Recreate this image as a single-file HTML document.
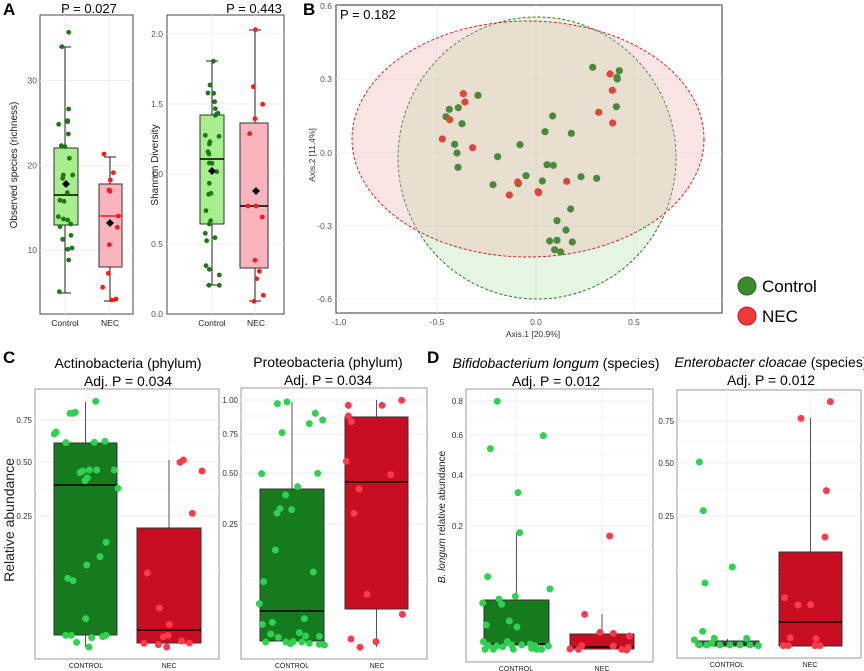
<!DOCTYPE html>
<html><head><meta charset="utf-8">
<style>
html,body{margin:0;padding:0;background:#fff}
svg{display:block;font-family:"Liberation Sans",sans-serif}
</style></head><body>
<svg id="s" width="864" height="671" viewBox="0 0 864 671" xmlns="http://www.w3.org/2000/svg">
<!-- Panel A -->
<g id="A">
<rect x="40" y="15" width="93" height="299" fill="#fff" stroke="#444" stroke-width="1"/>
<g stroke="#ececec" stroke-width="0.8">
<line x1="40" x2="133" y1="80.7" y2="80.7"/><line x1="40" x2="133" y1="165.7" y2="165.7"/><line x1="40" x2="133" y1="250.3" y2="250.3"/>
<line x1="65" x2="65" y1="15" y2="314"/><line x1="109" x2="109" y1="15" y2="314"/>
</g>
<line x1="65" x2="65" y1="47" y2="293" stroke="#222"/>
<line x1="59" x2="71" y1="47" y2="47" stroke="#222"/><line x1="59" x2="71" y1="293" y2="293" stroke="#222"/>
<rect x="54" y="148" width="24" height="77" fill="#a6ee8e" stroke="#333"/>
<line x1="54" x2="78" y1="195" y2="195" stroke="#000" stroke-width="1.6"/>
<line x1="110" x2="110" y1="157" y2="301" stroke="#222"/>
<line x1="104" x2="116" y1="157" y2="157" stroke="#222"/><line x1="104" x2="116" y1="301" y2="301" stroke="#222"/>
<rect x="99" y="184" width="23" height="83" fill="#f9b4be" stroke="#333"/>
<line x1="99" x2="122" y1="216" y2="216" stroke="#ff2020" stroke-width="1.6"/>
<g font-size="8.5" fill="#555" text-anchor="end"><text x="37" y="83.5">30</text><text x="37" y="168.5">20</text><text x="37" y="253">10</text></g>
<g font-size="8.5" fill="#222" text-anchor="middle"><text x="65" y="326">Control</text><text x="110" y="326">NEC</text></g>
<text transform="translate(17,165) rotate(-90)" font-size="10" text-anchor="middle" fill="#222">Observed species (richness)</text>
<text x="89" y="13" font-size="13" text-anchor="middle">P = 0.027</text>

<rect x="167" y="15" width="117" height="299" fill="#fff" stroke="#444"/>
<g stroke="#ececec" stroke-width="0.8">
<line x1="167" x2="284" y1="34" y2="34"/><line x1="167" x2="284" y1="104" y2="104"/><line x1="167" x2="284" y1="174" y2="174"/><line x1="167" x2="284" y1="244" y2="244"/>
<line x1="212" x2="212" y1="15" y2="314"/><line x1="255" x2="255" y1="15" y2="314"/>
</g>
<line x1="212" x2="212" y1="61" y2="285" stroke="#222"/>
<line x1="206" x2="218" y1="61" y2="61" stroke="#222"/><line x1="206" x2="218" y1="285" y2="285" stroke="#222"/>
<rect x="200" y="115" width="24" height="109" fill="#a6ee8e" stroke="#333"/>
<line x1="200" x2="224" y1="159" y2="159" stroke="#000" stroke-width="1.6"/>
<line x1="255" x2="255" y1="30" y2="301" stroke="#222"/>
<line x1="249" x2="261" y1="30" y2="30" stroke="#222"/><line x1="249" x2="261" y1="301" y2="301" stroke="#222"/>
<rect x="240" y="123" width="28" height="145" fill="#f9b4be" stroke="#333"/>
<line x1="240" x2="268" y1="206" y2="206" stroke="#000" stroke-width="1.6"/>
<g font-size="8.5" fill="#555" text-anchor="end"><text x="163" y="37">2.0</text><text x="163" y="107">1.5</text><text x="163" y="177">1.0</text><text x="163" y="247">0.5</text><text x="163" y="317">0.0</text></g>
<g font-size="8.5" fill="#222" text-anchor="middle"><text x="212" y="326">Control</text><text x="256" y="326">NEC</text></g>
<text transform="translate(158,165) rotate(-90)" font-size="10" text-anchor="middle" fill="#222">Shannon Diversity</text>
<text x="254" y="13" font-size="13" text-anchor="middle">P = 0.443</text>
<text x="3" y="15" font-size="17" font-weight="bold">A</text>
</g>

<!-- Panel B -->
<g id="B">
<rect x="336" y="5" width="386" height="308" fill="#fff" stroke="#333"/>
<g stroke="#ececec" stroke-width="0.8">
<line x1="336" x2="722" y1="6" y2="6"/><line x1="336" x2="722" y1="79" y2="79"/><line x1="336" x2="722" y1="153" y2="153"/><line x1="336" x2="722" y1="226" y2="226"/><line x1="336" x2="722" y1="299" y2="299"/>
<line x1="339" x2="339" y1="5" y2="313"/><line x1="437" x2="437" y1="5" y2="313"/><line x1="536" x2="536" y1="5" y2="313"/><line x1="634" x2="634" y1="5" y2="313"/>
</g>
<ellipse cx="537" cy="158" rx="139" ry="141" fill="#a8e0a0" fill-opacity="0.3" stroke="#2e7d2e" stroke-dasharray="3,2"/>
<ellipse cx="528" cy="139" rx="176" ry="118" fill="#f0a8a8" fill-opacity="0.3" stroke="#e02020" stroke-dasharray="3,2"/>
<g id="bpts"></g>
<g font-size="8.5" fill="#555" text-anchor="end"><text x="332" y="9">0.6</text><text x="332" y="82">0.3</text><text x="332" y="156">0.0</text><text x="332" y="229">-0.3</text><text x="332" y="302">-0.6</text></g>
<g font-size="8.5" fill="#555" text-anchor="middle"><text x="339" y="325">-1.0</text><text x="437" y="325">-0.5</text><text x="536" y="325">0.0</text><text x="634" y="325">0.5</text></g>
<text x="533" y="337" font-size="8.5" text-anchor="middle" fill="#333">Axis.1  [20.9%]</text>
<text transform="translate(315,155) rotate(-90)" font-size="8.5" text-anchor="middle" fill="#333">Axis.2  [11.4%]</text>
<text x="340" y="19" font-size="13">P = 0.182</text>
<text x="303" y="15" font-size="17" font-weight="bold">B</text>
<circle cx="747" cy="286" r="9" fill="#3a8a2e" stroke="#2a6a22"/>
<circle cx="747" cy="316" r="9" fill="#ee3a3a" stroke="#c02020"/>
<text x="762" y="292" font-size="17">Control</text>
<text x="762" y="322" font-size="17">NEC</text>
</g>

<!-- Panel C/D frames -->
<g id="CD"></g>
<g font-size="14" text-anchor="middle">
<text x="128" y="368">Actinobacteria (phylum)</text><text x="128" y="386">Adj. P = 0.034</text>
<text x="328" y="367">Proteobacteria (phylum)</text><text x="328" y="385">Adj. P = 0.034</text>
<text x="556" y="368"><tspan font-style="italic">Bifidobacterium longum</tspan> (species)</text><text x="556" y="386">Adj. P = 0.012</text>
<text x="771" y="367"><tspan font-style="italic">Enterobacter cloacae</tspan> (species)</text><text x="771" y="385">Adj. P = 0.012</text>
</g>
<text transform="translate(14,520) rotate(-90)" font-size="14" text-anchor="middle" fill="#222">Relative abundance</text>
<text transform="translate(445,517) rotate(-90)" font-size="10" text-anchor="middle" fill="#222"><tspan font-style="italic">B. longum</tspan> relative abundance</text>
<text x="3" y="363" font-size="17" font-weight="bold">C</text>
<text x="427" y="363" font-size="17" font-weight="bold">D</text>
</svg>
<script>
var NS="http://www.w3.org/2000/svg",s=document.getElementById("s");
function el(t,a,p){var e=document.createElementNS(NS,t);for(var k in a)e.setAttribute(k,a[k]);(p||s).appendChild(e);return e;}
// A points
var Ag=[[186,140],[206,97],[176,373],[203,362],[206,327],[203,365],[205,402],[184,437],[195,440],[208,475],[190,525],[218,525],[188,535],[202,578],[180,601],[192,604],[175,650],[190,657],[203,660],[180,680],[212,672],[188,718],[213,706],[203,748],[216,744],[206,780],[178,875]];
var Ar=[[312,462],[340,518],[331,540],[327,570],[330,574],[355,648],[352,682],[328,734],[325,820],[308,862],[335,900],[348,897]];
var As=[[640,184],[630,255],[624,279],[641,280],[644,305],[646,326],[646,346],[651,342],[654,340],[616,406],[657,409],[630,425],[628,432],[624,455],[627,462],[628,489],[636,490],[650,515],[628,550],[633,580],[626,583],[618,632],[632,662],[628,672],[616,700],[620,722],[645,713],[618,797],[628,808],[658,825],[627,856],[658,856]];
var Asr=[[766,89],[760,260],[788,313],[765,356],[749,401],[768,618],[744,618],[787,651],[765,781],[770,836],[778,814],[790,886],[762,904]];
Ag.forEach(function(p){el("circle",{cx:p[0]/3,cy:p[1]/3,r:2.4,fill:"#1c7a16"});});
Ar.forEach(function(p){el("circle",{cx:p[0]/3,cy:p[1]/3,r:2.4,fill:"#ff1818"});});
As.forEach(function(p){el("circle",{cx:p[0]/3,cy:p[1]/3,r:2.4,fill:"#1c7a16"});});
Asr.forEach(function(p){el("circle",{cx:p[0]/3,cy:p[1]/3,r:2.4,fill:"#ff1818"});});
function dia(x,y){el("path",{d:"M"+x+" "+(y-4)+"L"+(x+4)+" "+y+"L"+x+" "+(y+4)+"L"+(x-4)+" "+y+"Z",fill:"#000"});}
dia(66,184);dia(110,223);dia(212,171);dia(256,191);
// B points
var bp=document.getElementById("bpts");
var Bg=[[878,202],[958,212],[951,232],[952,237],[949,320],[534,286],[448,328],[438,350],[475,323],[486,371],[758,348],[735,395],[814,400],[660,434],[464,433],[471,459],[474,502],[593,470],[741,494],[760,496],[678,527],[727,543],[655,551],[579,554],[843,530],[890,535],[812,627],[771,662],[798,690],[749,723],[771,721],[817,726],[764,749],[782,756]];
var Br=[[930,222],[937,271],[896,337],[938,369],[490,281],[495,306],[449,359],[427,417],[518,443],[653,546],[628,585],[714,575],[716,578],[800,544]];
Bg.forEach(function(p){el("circle",{cx:300+p[0]/3,cy:p[1]/3,r:3.6,fill:"#4a8a3a"},bp);});
Br.forEach(function(p){el("circle",{cx:300+p[0]/3,cy:p[1]/3,r:3.6,fill:"#e2443a"},bp);});
// C/D panels
var cd=document.getElementById("CD");
function panel(o){
 el("rect",{x:o.x0,y:o.y0,width:o.x1-o.x0,height:o.y1-o.y0,fill:"#fff",stroke:"#999"},cd);
 o.ticks.forEach(function(t){el("line",{x1:o.x0,x2:o.x1,y1:t[1],y2:t[1],stroke:"#ececec"},cd);
  var tx=el("text",{x:o.x0-3,y:t[1]+3,"font-size":"8","text-anchor":"end",fill:"#333"},cd);tx.textContent=t[0];});
 (o.minor||[]).forEach(function(y){el("line",{x1:o.x0,x2:o.x1,y1:y,y2:y,stroke:"#f4f4f4"},cd);});
 [o.cx,o.nx].forEach(function(x){el("line",{x1:x,x2:x,y1:o.y0,y2:o.y1,stroke:"#f0f0f0"},cd);});
 o.boxes.forEach(function(b){
  el("line",{x1:(b[0]+b[1])/2,x2:(b[0]+b[1])/2,y1:b[5],y2:b[6],stroke:"#555"},cd);
  el("rect",{x:b[0],y:b[2],width:b[1]-b[0],height:b[3]-b[2],fill:b[7],stroke:"#333"},cd);
  el("line",{x1:b[0],x2:b[1],y1:b[4],y2:b[4],stroke:"#000","stroke-width":1.5},cd);
 });
 o.g.forEach(function(p){el("circle",{cx:o.ox+p[0]/3,cy:340+p[1]/3,r:3.5,fill:"#2ed150"},cd);});
 o.r.forEach(function(p){el("circle",{cx:o.ox+p[0]/3,cy:340+p[1]/3,r:3.5,fill:"#ff3a4a"},cd);});
 var a=el("text",{x:o.cx,y:o.y1+9,"font-size":"7","text-anchor":"middle",fill:"#222"},cd);a.textContent="CONTROL";
 var b=el("text",{x:o.nx,y:o.y1+9,"font-size":"7","text-anchor":"middle",fill:"#222"},cd);b.textContent="NEC";
}
var G="#167a1e",R="#c80e22";
panel({x0:35,x1:219,y0:389,y1:659,cx:86,nx:169,ox:0,ticks:[["0.75",420],["0.50",462],["0.25",516]],minor:[442,489,570],
 boxes:[[54,117,443,635,485,402,647,G],[137,201,528,643,630,460,643,R]],
 g:[[287,184],[210,220],[220,220],[226,217],[163,282],[168,276],[198,308],[283,307],[315,304],[240,398],[248,393],[268,390],[290,390],[343,390],[255,422],[262,414],[354,445],[318,607],[300,650],[260,675],[203,715],[219,722],[257,836],[197,886],[214,886],[275,893],[308,890],[318,886],[230,907],[267,921]],
 r:[[540,367],[550,360],[606,393],[577,520],[442,699],[478,804],[508,853],[490,890],[505,886],[432,910],[475,914],[500,921],[545,903],[568,909]]});
panel({x0:241,x1:427,y0:388,y1:659,cx:292,nx:377,ox:0,ticks:[["1.00",400],["0.75",434],["0.50",473],["0.25",524]],minor:[416,453,497,580],
 boxes:[[260,324,489,641,611,402,641,G],[345,408,417,609,482,400,647,R]],
 g:[[832,191],[861,186],[946,220],[928,251],[968,240],[846,278],[785,401],[953,400],[893,440],[857,465],[840,506],[831,520],[875,509],[826,630],[940,696],[791,725],[778,791],[913,836],[787,853],[817,847],[812,882],[835,892],[898,878],[917,888],[958,889],[797,906],[858,906],[871,911],[880,905],[906,906],[928,910],[958,913],[973,915]],
 r:[[1045,196],[1146,196],[1205,181],[1045,228],[1054,245],[1039,364],[1172,404],[1077,447],[1062,520],[1101,763],[1207,823],[1053,897],[1128,905],[1080,922]]});
panel({x0:466,x1:653,y0:389,y1:662,cx:516,nx:602,ox:430,ticks:[["0.8",401],["0.6",435],["0.4",475],["0.2",526]],minor:[418,454,500,551,578,610],
 boxes:[[484,549,600,645,644,533,645,G],[570,634,634,649,647,614,649,R]],
 g:[[202,184],[181,326],[340,287],[264,458],[269,578],[173,710],[360,747],[207,777],[158,789],[215,793],[256,769],[169,855],[238,843],[261,861],[160,905],[232,905],[175,917],[200,918],[218,920],[245,915],[275,915],[300,912],[315,917],[355,918],[165,928],[190,928],[250,928],[320,928],[335,928],[305,925]],
 r:[[539,588],[464,823],[510,877],[550,880],[598,888],[455,917],[420,927],[445,928],[550,918],[575,928],[595,922],[590,930]]});
panel({x0:677,x1:861,y0:390,y1:658,cx:727,nx:810,ox:430,ticks:[["0.75",421],["0.50",463],["0.25",516]],minor:[395,441,489,570],
 boxes:[[696,759,641,646,644,639,646,G],[779,842,552,646,622,418,646,R]],
 g:[[808,366],[820,512],[907,681],[825,729],[818,874],[793,900],[853,895],[950,895],[808,915],[830,915],[870,915],[900,915],[930,915],[960,915],[985,917],[845,910]],
 r:[[1201,185],[1113,235],[1189,452],[1185,591],[1064,773],[1104,795],[1142,794],[1081,893],[1158,896],[1060,917],[1075,917],[1155,917],[1170,917]]});
</script>
</body></html>
